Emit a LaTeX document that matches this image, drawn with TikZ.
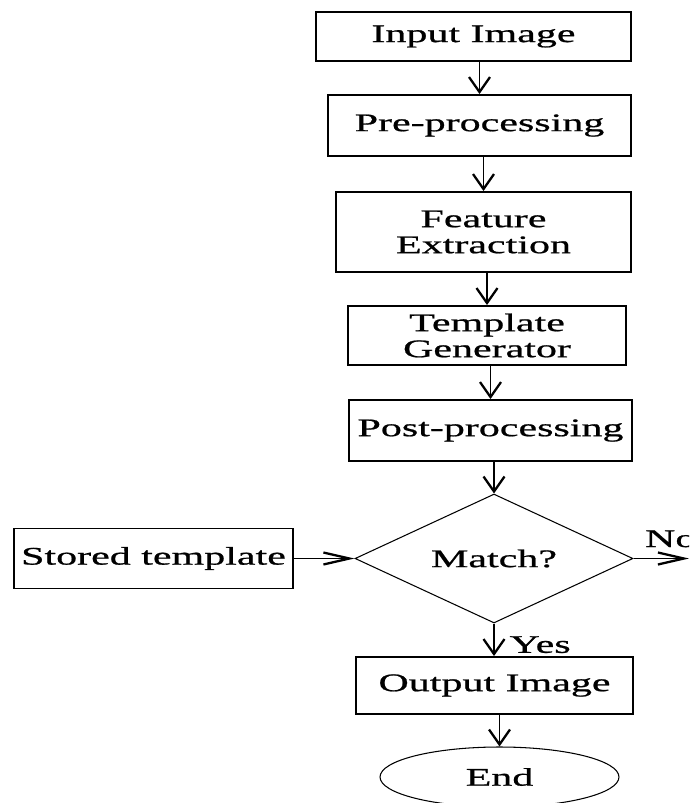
\documentclass[tikz,border=0pt]{standalone}
\usepackage{fontspec}
\setmainfont{Liberation Serif}[FakeStretch=1.66, FakeBold=0.8]
\usetikzlibrary{shapes.geometric,arrows.meta}

\tikzset{
    box/.style={draw, line width=1.1pt, align=center, inner sep=2pt},
    decide/.style={draw, diamond, line width=0.6pt, inner sep=0pt, aspect=2.15},
    term/.style={draw, ellipse, line width=0.6pt, inner sep=0pt},
    arr/.style={line width=0.8pt, -{Straight Barb[length=0.3cm, width=0.42cm, line width=1.3pt]}},
    harr/.style={line width=0.8pt, -{Straight Barb[length=0.52cm, width=0.24cm, line width=1.3pt]}}
}

\begin{document}
\begin{tikzpicture}[x=0.02cm, y=-0.02cm, font=\fontsize{14.4}{14.8}\selectfont]
    \clip (0,0) rectangle (689,803);

    \node[box, minimum width=6.3cm, minimum height=0.98cm] (in) at (473.5,36.5) {Input Image};
    \node[box, minimum width=6.06cm, minimum height=1.22cm] (pre) at (479.5,125.5) {Pre-processing};
    \node[box, minimum width=5.9cm, minimum height=1.6cm] (feat) at (483.5,232) {Feature\\Extraction};
    \node[box, minimum width=5.56cm, minimum height=1.18cm] (tmpl) at (487,335.5) {Template\\Generator};
    \node[box, minimum width=5.66cm, minimum height=1.22cm] (post) at (490.5,430.5) {Post-processing};

    \node[decide, minimum width=5.56cm, minimum height=2.58cm] (match) at (494,558.5) {Match?};
    \node[box, line width=1pt, minimum width=5.58cm, minimum height=1.2cm] (stored) at (153.5,558.5) {Stored template};
    \coordinate (nx) at (689,558.5);

    \node[box, minimum width=5.54cm, minimum height=1.14cm] (out) at (494.5,685.5) {Output Image};
    \node[term, minimum width=4.78cm, minimum height=1.2cm] (end) at (499.5,777) {End};

    \draw[arr] (in.south -| pre.north) -- (pre.north);
    \draw[arr] (pre.south -| feat.north) -- (feat.north);
    \draw[arr] (feat.south -| tmpl.north) -- (tmpl.north);
    \draw[arr] (tmpl.south -| post.north) -- (post.north);
    \draw[arr] (post.south -| match.north) -- (match.north);

    \draw[harr] (stored.east) -- (match.west);
    \draw[harr] (match.east) -- node[pos=0, anchor=base west, xshift=0.1cm, yshift=0.23cm] {No} (nx);
    \draw[arr] (match.south) -- node[pos=0.65, anchor=west, xshift=0.18cm] {Yes} (match.south |- out.north);
    \draw[arr] (out.south -| end.north) -- (end.north);
\end{tikzpicture}
\end{document}
